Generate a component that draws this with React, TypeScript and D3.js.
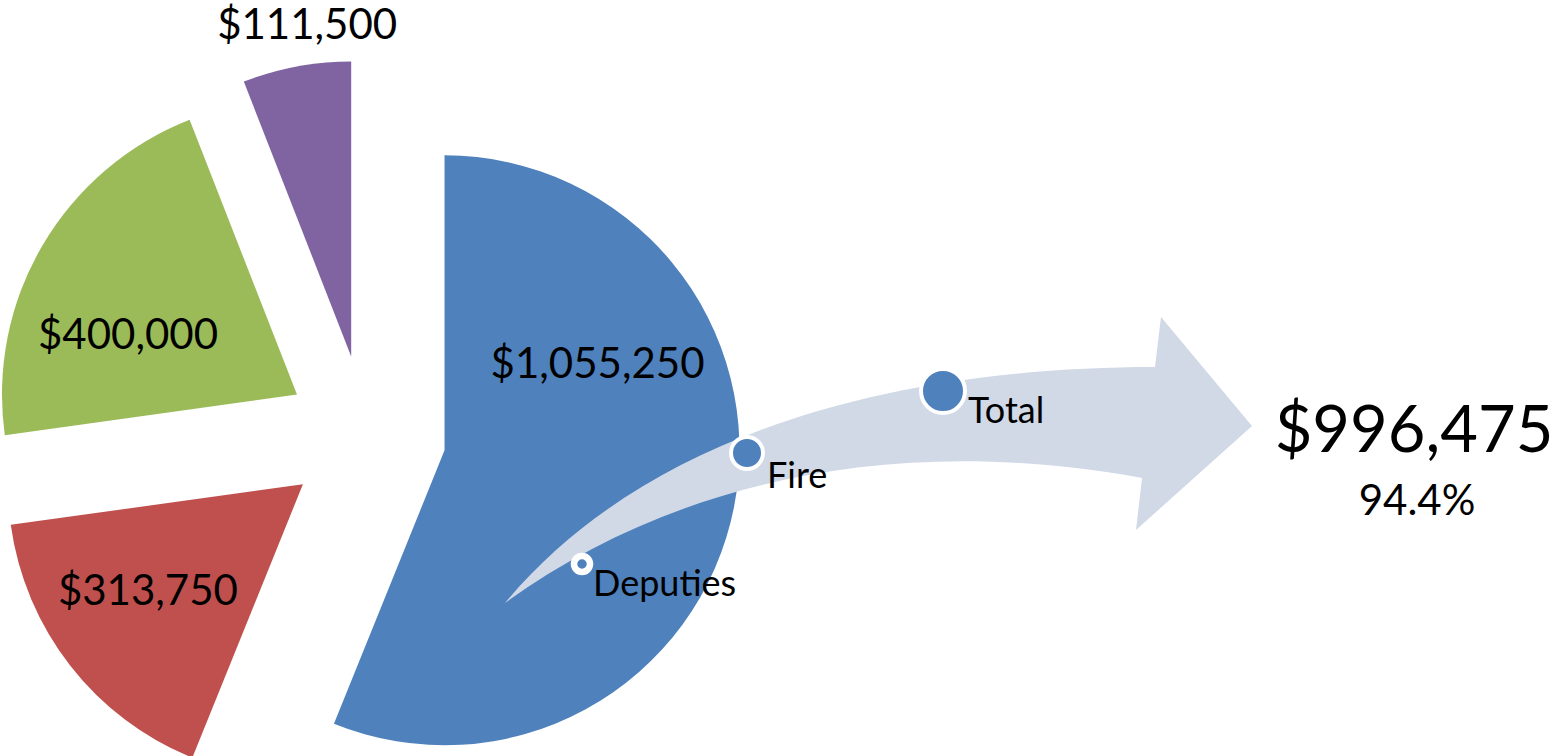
import React from "react";
import * as d3 from "d3";

// ---- data ----
const sliceNames = ["Slice A", "Slice B", "Slice C", "Slice D"];
const sliceValues = [1055250, 313750, 400000, 111500];
const sliceColors = ["#4F81BD", "#C0504D", "#9BBB59", "#8064A2"];
const markerNames = ["Deputies", "Fire", "Total"];
const resultValue = 996475;

// ---- layout ----
const W = 1558;
const H = 756;
const CX = 366;
const CY = 435;
const R = 295;
const EXPLODE = 80;
const FONT = "Lato, 'Open Sans', sans-serif";
// label offsets from each slice vertex (dx, baseline dy)
const labelOffsets: [number, number][] = [
  [153, -72],
  [-155, 121],
  [-169, -46],
  [-44, -317],
];
// arrow geometry (cubic bezier edges + straight head)
const arrowTail: [number, number] = [505, 603];
const upperCtrl: [number, number][] = [[645, 435], [890, 367], [1155, 367]];
const arrowHead: [number, number][] = [[1161, 317], [1252, 426], [1136, 530], [1142, 478]];
const lowerCtrl: [number, number][] = [[880, 430], [660, 490], [505, 603]];
const markerPos: { x: number; y: number; r: number; sw: number; tx: number; ty: number }[] = [
  { x: 582, y: 564, r: 8, sw: 6.5, tx: 593, ty: 596 },
  { x: 747, y: 453, r: 16, sw: 4, tx: 767, ty: 488 },
  { x: 943, y: 391, r: 22, sw: 4, tx: 968, ty: 423 },
];

export default function App() {
  const pie = d3.pie<number>().sort(null).value((d) => d)(sliceValues);
  const arc = d3.arc<d3.PieArcDatum<number>>().innerRadius(0).outerRadius(R);
  const fmt = d3.format("$,");
  const pct = d3.format(".1%")(resultValue / sliceValues[0]);

  const p = d3.path();
  p.moveTo(arrowTail[0], arrowTail[1]);
  p.bezierCurveTo(upperCtrl[0][0], upperCtrl[0][1], upperCtrl[1][0], upperCtrl[1][1], upperCtrl[2][0], upperCtrl[2][1]);
  arrowHead.forEach((h) => p.lineTo(h[0], h[1]));
  p.bezierCurveTo(lowerCtrl[0][0], lowerCtrl[0][1], lowerCtrl[1][0], lowerCtrl[1][1], lowerCtrl[2][0], lowerCtrl[2][1]);
  p.closePath();
  const arrowPath = p.toString();

  return (
    <svg
      width={W}
      height={H}
      style={{ position: "absolute", left: 0, top: 0, background: "#fff" }}
      fontFamily={FONT}
    >
      {pie.map((s, i) => {
        const mid = (s.startAngle + s.endAngle) / 2;
        const tx = CX + EXPLODE * Math.sin(mid);
        const ty = CY - EXPLODE * Math.cos(mid);
        return (
          <g key={sliceNames[i]} transform={`translate(${tx},${ty})`}>
            <path d={arc(s) || ""} fill={sliceColors[i]} />
          </g>
        );
      })}
      <path d={arrowPath} fill="#D1D9E7" />
      {pie.map((s, i) => {
        const mid = (s.startAngle + s.endAngle) / 2;
        const tx = CX + EXPLODE * Math.sin(mid);
        const ty = CY - EXPLODE * Math.cos(mid);
        return (
          <text
            key={"l" + i}
            x={tx + labelOffsets[i][0]}
            y={ty + labelOffsets[i][1]}
            textAnchor="middle"
            fontSize={42}
            fill="#000"
          >
            {fmt(sliceValues[i])}
          </text>
        );
      })}
      {markerNames.map((m, i) => (
        <g key={m}>
          <circle
            cx={markerPos[i].x}
            cy={markerPos[i].y}
            r={markerPos[i].r}
            fill="#4F81BD"
            stroke="#fff"
            strokeWidth={markerPos[i].sw}
          />
          <text x={markerPos[i].tx} y={markerPos[i].ty} fontSize={36} fill="#000">
            {m}
          </text>
        </g>
      ))}
      <text x={1414} y={452} textAnchor="middle" fontSize={65} fill="#000">
        {fmt(resultValue)}
      </text>
      <text x={1417} y={515} textAnchor="middle" fontSize={42} fill="#000">
        {pct}
      </text>
    </svg>
  );
}
